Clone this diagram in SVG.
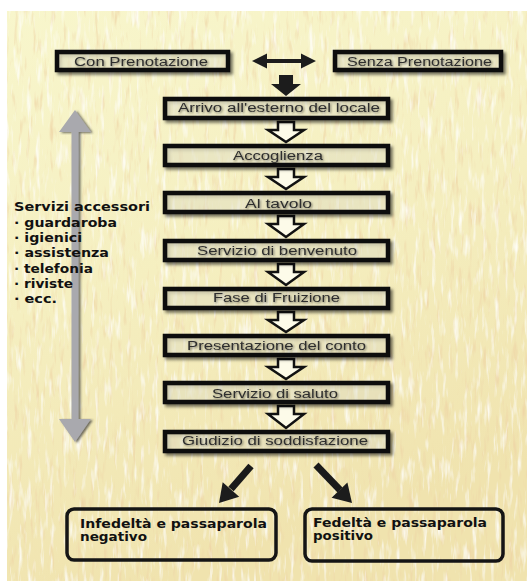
<svg xmlns="http://www.w3.org/2000/svg" width="527" height="581" viewBox="0 0 527 581">
<defs>
  <linearGradient id="bgGrad" x1="0" y1="0" x2="0.3" y2="1">
    <stop offset="0" stop-color="#f8f6cc"/>
    <stop offset="0.5" stop-color="#f5efc0"/>
    <stop offset="1" stop-color="#f0e3ae"/>
  </linearGradient>
  <filter id="grain" x="0" y="0" width="1" height="1">
    <feTurbulence type="fractalNoise" baseFrequency="0.22 0.035" numOctaves="3" seed="11" result="n"/>
    <feColorMatrix in="n" type="matrix" values="0 0 0 0 0.86  0 0 0 0 0.66  0 0 0 0 0.38  2.4 0 0 0 -1.35" result="tan"/>
    <feColorMatrix in="n" type="matrix" values="0 0 0 0 1  0 0 0 0 1  0 0 0 0 0.96  0 2.4 0 0 -1.3" result="wht"/>
    <feComposite in="tan" in2="SourceGraphic" operator="atop" result="t1"/>
    <feComposite in="wht" in2="t1" operator="atop" result="t2"/>
    <feMerge><feMergeNode in="SourceGraphic"/><feMergeNode in="t2"/></feMerge>
  </filter>
  <filter id="boxShadow" x="-10%" y="-40%" width="120%" height="190%">
    <feDropShadow dx="2.5" dy="2.5" stdDeviation="1.5" flood-color="#000" flood-opacity="0.55"/>
  </filter>
  <filter id="txtShadow" x="-5%" y="-40%" width="110%" height="190%">
    <feDropShadow dx="1" dy="1" stdDeviation="0.9" flood-color="#000" flood-opacity="0.5"/>
  </filter>
  <filter id="grayShadow" x="-30%" y="-5%" width="160%" height="110%">
    <feDropShadow dx="2" dy="1" stdDeviation="1" flood-color="#333" flood-opacity="0.7"/>
  </filter>
  <style>
    .box { fill: #fbf8de; fill-opacity: 0.35; stroke: #111; stroke-width: 4.5; }
    .rbox { fill: none; stroke: #151515; stroke-width: 3.5; }
    .lbl { font-family: "Liberation Sans", Arial, sans-serif; font-size: 12.5px; fill: #2e2e2e; }
    .bold { font-family: "DejaVu Sans", "Liberation Sans", Arial, sans-serif; font-size: 12px; font-weight: bold; fill: #111; }
    .hollow { fill: #fdfbe9; stroke: #111; stroke-width: 2.5; stroke-linejoin: miter; }
    .solid { fill: #1c1c1c; }
    .diag { stroke: #1a1a1a; stroke-width: 7; fill: none; }
  </style>
</defs>

<!-- background -->
<rect x="0" y="0" width="527" height="581" fill="#ffffff"/>
<rect x="7" y="11" width="520" height="570" fill="url(#bgGrad)" filter="url(#grain)"/>

<!-- side gray double arrow -->
<g id="side-arrow" filter="url(#grayShadow)">
  <path d="M75,110 L91,132 H78.5 V419 H91 L75,442 L59,419 H71.5 V132 H59 Z" fill="#a9a9ae"/>
</g>

<g id="servizi-accessori">
  <text class="bold" x="14" y="211" textLength="136" lengthAdjust="spacingAndGlyphs">Servizi accessori</text>
  <text class="bold" x="14" y="226.5" textLength="103" lengthAdjust="spacingAndGlyphs">· guardaroba</text>
  <text class="bold" x="14" y="242" textLength="68" lengthAdjust="spacingAndGlyphs">· igienici</text>
  <text class="bold" x="14" y="257" textLength="95" lengthAdjust="spacingAndGlyphs">· assistenza</text>
  <text class="bold" x="14" y="272.5" textLength="79" lengthAdjust="spacingAndGlyphs">· telefonia</text>
  <text class="bold" x="14" y="288" textLength="59" lengthAdjust="spacingAndGlyphs">· riviste</text>
  <text class="bold" x="14" y="303" textLength="43" lengthAdjust="spacingAndGlyphs">· ecc.</text>
</g>

<!-- connectors -->
<g id="connectors">
  <path class="solid" d="M252,61 L267,53.5 V59 H301 V53.5 L316,61 L301,68.5 V63 H267 V68.5 Z"/>
  <path class="solid" d="M279,75 H293 V84 H301 L286,96 L271,84 H279 Z"/>
  <path class="hollow" d="M278,122 H294 V130 H304 L286,142 L268,130 H278 Z"/>
  <path class="hollow" d="M278,169 H294 V177 H304 L286,189 L268,177 H278 Z"/>
  <path class="hollow" d="M278,216 H294 V224 H304 L286,237 L268,224 H278 Z"/>
  <path class="hollow" d="M278,264 H294 V272 H304 L286,285 L268,272 H278 Z"/>
  <path class="hollow" d="M278,312 H294 V320 H304 L286,332 L268,320 H278 Z"/>
  <path class="hollow" d="M278,359 H294 V367 H304 L286,379 L268,367 H278 Z"/>
  <path class="hollow" d="M278,406 H294 V414 H304 L286,428 L268,414 H278 Z"/>
  <line class="diag" x1="251" y1="466" x2="231" y2="489"/>
  <path class="solid" d="M219,503 L239.2,496.8 L222.7,482.2 Z"/>
  <line class="diag" x1="316" y1="465" x2="340" y2="490"/>
  <path class="solid" d="M352,503 L347.4,482.4 L331.6,497.8 Z"/>
</g>

<g id="con-prenotazione">
  <rect class="box" x="57" y="52" width="171" height="18" filter="url(#boxShadow)"/>
  <text class="lbl" x="74" y="65.5" textLength="134" lengthAdjust="spacingAndGlyphs" filter="url(#txtShadow)">Con Prenotazione</text>
</g>
<g id="senza-prenotazione">
  <rect class="box" x="335" y="52" width="166" height="18" filter="url(#boxShadow)"/>
  <text class="lbl" x="347" y="65.5" textLength="145" lengthAdjust="spacingAndGlyphs" filter="url(#txtShadow)">Senza Prenotazione</text>
</g>
<g id="arrivo">
  <rect class="box" x="165" y="99" width="223" height="19" filter="url(#boxShadow)"/>
  <text class="lbl" x="178" y="111.5" textLength="202" lengthAdjust="spacingAndGlyphs" filter="url(#txtShadow)">Arrivo all'esterno del locale</text>
</g>
<g id="accoglienza">
  <rect class="box" x="165" y="146" width="223" height="19" filter="url(#boxShadow)"/>
  <text class="lbl" x="233" y="159.5" textLength="90" lengthAdjust="spacingAndGlyphs" filter="url(#txtShadow)">Accoglienza</text>
</g>
<g id="al-tavolo">
  <rect class="box" x="165" y="193" width="223" height="19" filter="url(#boxShadow)"/>
  <text class="lbl" x="245" y="207.5" textLength="67" lengthAdjust="spacingAndGlyphs" filter="url(#txtShadow)">Al tavolo</text>
</g>
<g id="servizio-benvenuto">
  <rect class="box" x="165" y="241" width="223" height="19" filter="url(#boxShadow)"/>
  <text class="lbl" x="197" y="254.5" textLength="160" lengthAdjust="spacingAndGlyphs" filter="url(#txtShadow)">Servizio di benvenuto</text>
</g>
<g id="fase-fruizione">
  <rect class="box" x="165" y="289" width="223" height="19" filter="url(#boxShadow)"/>
  <text class="lbl" x="213" y="301.5" textLength="127" lengthAdjust="spacingAndGlyphs" filter="url(#txtShadow)">Fase di Fruizione</text>
</g>
<g id="presentazione-conto">
  <rect class="box" x="165" y="336" width="223" height="19" filter="url(#boxShadow)"/>
  <text class="lbl" x="187" y="349.5" textLength="179" lengthAdjust="spacingAndGlyphs" filter="url(#txtShadow)">Presentazione del conto</text>
</g>
<g id="servizio-saluto">
  <rect class="box" x="165" y="383" width="223" height="19" filter="url(#boxShadow)"/>
  <text class="lbl" x="212" y="397.5" textLength="126" lengthAdjust="spacingAndGlyphs" filter="url(#txtShadow)">Servizio di saluto</text>
</g>
<g id="giudizio">
  <rect class="box" x="165" y="432" width="223" height="19" filter="url(#boxShadow)"/>
  <text class="lbl" x="182" y="444.5" textLength="186" lengthAdjust="spacingAndGlyphs" filter="url(#txtShadow)">Giudizio di soddisfazione</text>
</g>

<g id="infedelta">
  <rect class="rbox" x="67" y="509" width="209" height="51" rx="7"/>
  <text class="bold" x="80" y="528" textLength="187" lengthAdjust="spacingAndGlyphs">Infedeltà e passaparola</text>
  <text class="bold" x="80" y="541" textLength="67" lengthAdjust="spacingAndGlyphs">negativo</text>
</g>
<g id="fedelta">
  <rect class="rbox" x="305" y="509" width="198" height="52" rx="7"/>
  <text class="bold" x="313" y="527" textLength="174" lengthAdjust="spacingAndGlyphs">Fedeltà e passaparola</text>
  <text class="bold" x="313" y="540" textLength="60" lengthAdjust="spacingAndGlyphs">positivo</text>
</g>
</svg>
